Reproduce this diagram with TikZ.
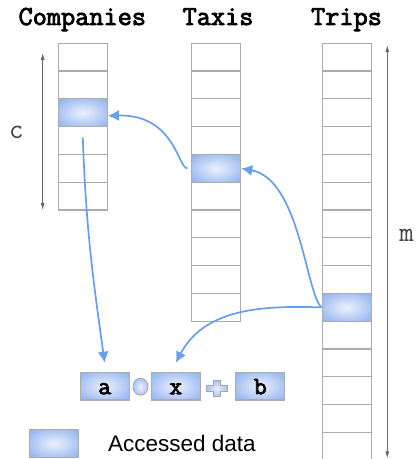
\documentclass[tikz,border=0pt]{standalone}
\usepackage{fontspec}
\setmainfont{Liberation Sans}
\setmonofont{Latin Modern Mono}[AutoFakeBold=3]
\usepackage{xcolor}
\usepackage{tikz}
\usetikzlibrary{calc,arrows.meta,positioning,shapes}

\definecolor{hlin}{RGB}{236,241,253}
\definecolor{hlout}{RGB}{108,154,232}
\definecolor{flowblue}{RGB}{104,158,238}
\definecolor{cellgray}{RGB}{172,172,172}
\pgfdeclareradialshading{glow}{\pgfpointorigin}{color(0bp)=(hlin); color(48bp)=(hlout); color(75bp)=(hlout)}

\begin{document}
\begin{tikzpicture}[x=1pt,y=1pt,
    cell/.style={draw=cellgray,line width=1.2pt,minimum width=49pt,minimum height=27.8pt,inner sep=0pt},
    hot/.style={cell,shading=glow},
    term/.style={hot,font=\ttfamily\bfseries\fontsize{25}{25}\selectfont,text height=16pt,text depth=0pt},
    flow/.style={draw=flowblue,line width=1.7pt,-{Latex[length=11pt,width=11pt]}},
    dim/.style={draw=black!60,line width=0.9pt,{Latex[length=7pt,width=4pt]}-{Latex[length=7pt,width=4pt]}},
    head/.style={anchor=base,font=\ttfamily\bfseries\fontsize{27.5}{27.5}\selectfont},
    size/.style={anchor=base,text=black!75,font=\ttfamily\fontsize{28}{28}\selectfont}]
  \useasboundingbox (0,0) rectangle (418,459);

  % the three tables
  \foreach \i in {1,...,6}{\node[cell] (co\i) at (82.8,{401.8-27.8*(\i-1)}) {};}
  \foreach \i in {1,...,10}{\node[cell] (ta\i) at (216.2,{401.8-27.8*(\i-1)}) {};}
  \foreach \i in {1,...,15}{\node[cell] (tr\i) at (346.7,{401.8-27.8*(\i-1)}) {};}
  \node[hot] (comphot) at (co3) {};
  \node[hot] (taxihot) at (ta5) {};
  \node[hot] (triphot) at (tr10) {};

  \node[head] (cotitle) at (82.3,434) {Companies};
  \node[head] (tatitle) at (218,434) {Taxis};
  \node[head] (trtitle) at (346.5,434) {Trips};

  % table sizes
  \coordinate (ctop) at (42.7,406);
  \coordinate (cbot) at (42.7,249);
  \draw[dim] (ctop) -- (cbot);
  \node[size] (clab) at (16.3,320) {c};
  \coordinate (mtop) at (387.3,414);
  \coordinate (mbot) at (387.3,0.5);
  \draw[dim] (mtop) -- (mbot);
  \node[size] (mlab) at (406.5,217.3) {m};

  % a o x + b
  \node[term] (fa) at (104.7,72.8) {a};
  \node[draw=gray!70,line width=0.8pt,ellipse,shading=glow,minimum width=15pt,minimum height=17pt,inner sep=0pt] (op1) at (140.5,72.3) {};
  \node[term] (fx) at (175.8,72.8) {x};
  \coordinate (op2) at (217,70.5);
  \draw[draw=gray!70,line width=0.8pt,shading=glow] (op2) ++(-3.5,-8) -- ++(7,0) -- ++(0,5) -- ++(6.8,0) -- ++(0,6) -- ++(-6.8,0) -- ++(0,5) -- ++(-7,0) -- ++(0,-5) -- ++(-6.8,0) -- ++(0,-6) -- ++(6.8,0) -- cycle;
  \node[term] (fb) at (260.3,72.8) {b};

  % lookups
  \draw[flow] ([xshift=-3.5pt]taxihot.west) .. controls (178,290) and (175,345) .. ([yshift=-3pt]comphot.east);
  \draw[flow] (triphot.west) .. controls (306,165) and (300,280) .. (taxihot.east);
  \draw[flow] (triphot.west) to[out=178,in=62] ([yshift=9pt]fx.north);
  \draw[flow] ([yshift=-10pt]comphot.south) to[out=-88,in=98] ([yshift=9pt]fa.north);

  % legend
  \node[hot] (key) at (54.2,15.5) {};
  \node[anchor=west,inner sep=0pt,font=\fontsize{22.5}{22.5}\selectfont] (keytxt) at (108,16) {Accessed data};
\end{tikzpicture}
\end{document}
